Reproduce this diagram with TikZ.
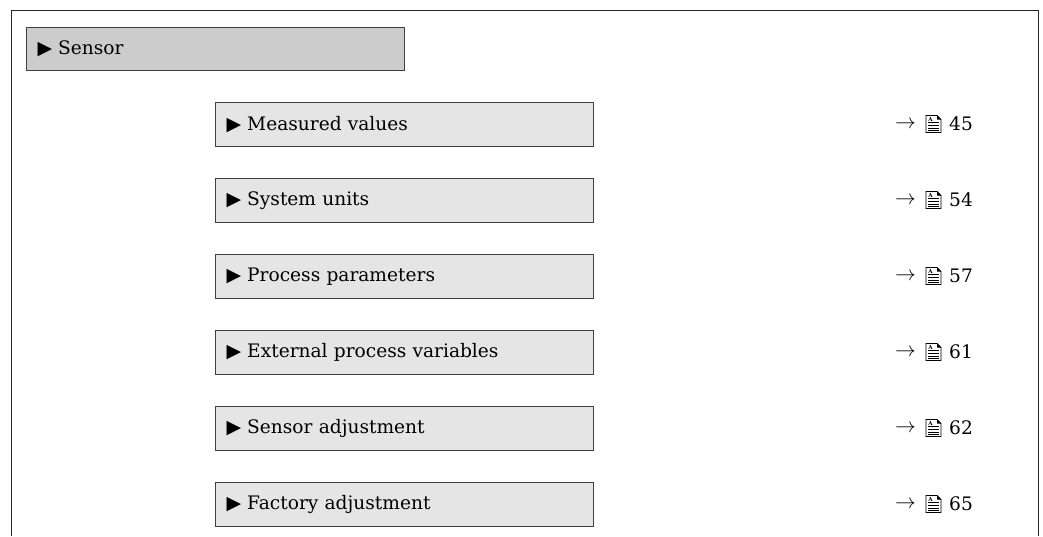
\documentclass[tikz,border=0pt]{standalone}
\usepackage{fontspec}
\setmainfont{DejaVu Serif}
\newfontfamily\symfont{DejaVu Sans}
\begin{document}
\begin{tikzpicture}[x=1pt,y=1pt,
  frameline/.style={draw=black!85, line width=1pt},
  menubox/.style={draw=black!75, line width=1.2pt, fill=black!10, anchor=north west,
    minimum height=44pt, text width=356pt, inner xsep=11pt, inner ysep=0pt, align=left,
    font=\fontsize{18.6}{20}\selectfont},
  mainbox/.style={menubox, fill=black!20, minimum height=43pt},
  reftext/.style={anchor=west, inner sep=0pt, font=\fontsize{18.6}{20}\selectfont},
  docicon/.pic={
    \draw[line width=0.8pt, fill=white] (0,-8.5) -- (0,8.5) -- (11,8.5) -- (15,4.5) -- (15,-8.5) -- cycle;
    \fill (11,8.5) -- (11,4.5) -- (15,4.5) -- cycle;
    \node[inner sep=0pt, font=\fontsize{5.5}{6}\selectfont\bfseries] at (4.5,5) {A};
    \draw[line width=0.8pt] (2,1.2) -- (13,1.2) (2,-1.6) -- (13,-1.6) (2,-4.4) -- (13,-4.4) (2,-6.8) -- (13,-6.8);
  }]
\useasboundingbox (0,0) rectangle (1043,-536);
\draw[frameline] (11,-536) -- (11,-10) -- (1038,-10) -- (1038,-536);
\newcommand{\tri}{{\symfont\fontsize{19}{19}\selectfont ▶}\hspace{6pt}}
\node[mainbox] (sensor) at (26,-27) {\tri Sensor};
\foreach \i/\t/\n in {0/Measured values/45, 1/System units/54, 2/Process parameters/57,
  3/External process variables/61, 4/Sensor adjustment/62, 5/Factory adjustment/65}{
  \node[menubox] (box\i) at (215,{-102-76*\i}) {\tri \t};
  \node[reftext] (arr\i) at (895,{-124.5-76*\i}) {\fontsize{20}{20}\selectfont$\rightarrow$};
  \pic at (926,{-124-76*\i}) {docicon};
  \node[reftext] (num\i) at (949,{-124-76*\i}) {\n};
}
\end{tikzpicture}
\end{document}
